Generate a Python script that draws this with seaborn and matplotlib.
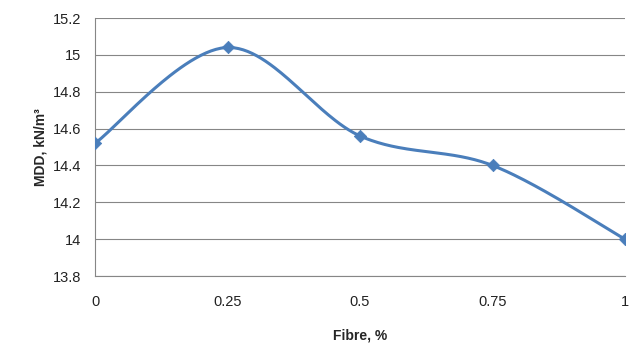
import numpy as np
import pandas as pd
import matplotlib
matplotlib.use("Agg")
import matplotlib.pyplot as plt
import seaborn as sns

fibre = [0, 0.25, 0.5, 0.75, 1]
mdd = [14.52, 15.04, 14.56, 14.40, 14.00]
x_ticks = [0, 0.25, 0.5, 0.75, 1]
x_tick_labels = ["0", "0.25", "0.5", "0.75", "1"]
y_ticks = [13.8, 14, 14.2, 14.4, 14.6, 14.8, 15, 15.2]
y_tick_labels = ["13.8", "14", "14.2", "14.4", "14.6", "14.8", "15", "15.2"]

# Excel-style smoothed line (Catmull-Rom via Bezier)
def smooth(xs, ys, n=60):
    P = np.column_stack([xs, ys]).astype(float)
    out = []
    for i in range(len(P) - 1):
        p0 = P[i - 1] if i > 0 else P[i]
        p1 = P[i]
        p2 = P[i + 1]
        p3 = P[i + 2] if i + 2 < len(P) else P[i + 1]
        c1 = p1 + (p2 - p0) / 6.0
        c2 = p2 - (p3 - p1) / 6.0
        t = np.linspace(0, 1, n)[:, None]
        seg = ((1 - t) ** 3) * p1 + 3 * ((1 - t) ** 2) * t * c1 + 3 * (1 - t) * t ** 2 * c2 + t ** 3 * p2
        out.append(seg if i == 0 else seg[1:])
    return np.vstack(out)

curve = smooth(fibre, mdd)
df_curve = pd.DataFrame({"x": curve[:, 0], "y": curve[:, 1]})
df_pts = pd.DataFrame({"x": fibre, "y": mdd})

sns.set_style("white")
plt.rcParams["font.family"] = ["Liberation Sans", "DejaVu Sans"]

fig = plt.figure(figsize=(6.38, 3.44), dpi=100)
ax = fig.add_axes([95 / 638, 1 - 276 / 344, 530 / 638, 258 / 344])

color = "#4A7EBB"
sns.lineplot(data=df_curve, x="x", y="y", ax=ax, color=color, linewidth=2.2, sort=False, zorder=3)
sns.scatterplot(data=df_pts, x="x", y="y", ax=ax, color=color, marker="D", s=40, edgecolor=color, zorder=4)

ax.set_xlim(0, 1)
ax.set_ylim(13.8, 15.2)
ax.set_xticks(x_ticks)
ax.set_xticklabels(x_tick_labels)
ax.set_yticks(y_ticks)
ax.set_yticklabels(y_tick_labels)
ax.grid(axis="y", color="#868686", linewidth=0.8)
ax.set_axisbelow(True)
for s in ["top", "right"]:
    ax.spines[s].set_visible(False)
for s in ["left", "bottom"]:
    ax.spines[s].set_color("#868686")
    ax.spines[s].set_linewidth(0.8)
ax.tick_params(axis="both", direction="out", length=4, color="#868686", width=0.8,
               labelsize=10.5, labelcolor="#222222")
ax.tick_params(axis="x", pad=10)
ax.tick_params(axis="y", pad=6)
ax.set_xlabel("Fibre, %", fontsize=10, fontweight="bold", labelpad=14)
ax.set_ylabel("MDD, kN/m³", fontsize=10, fontweight="bold", labelpad=4)

fig.savefig("out.png", dpi=100)
